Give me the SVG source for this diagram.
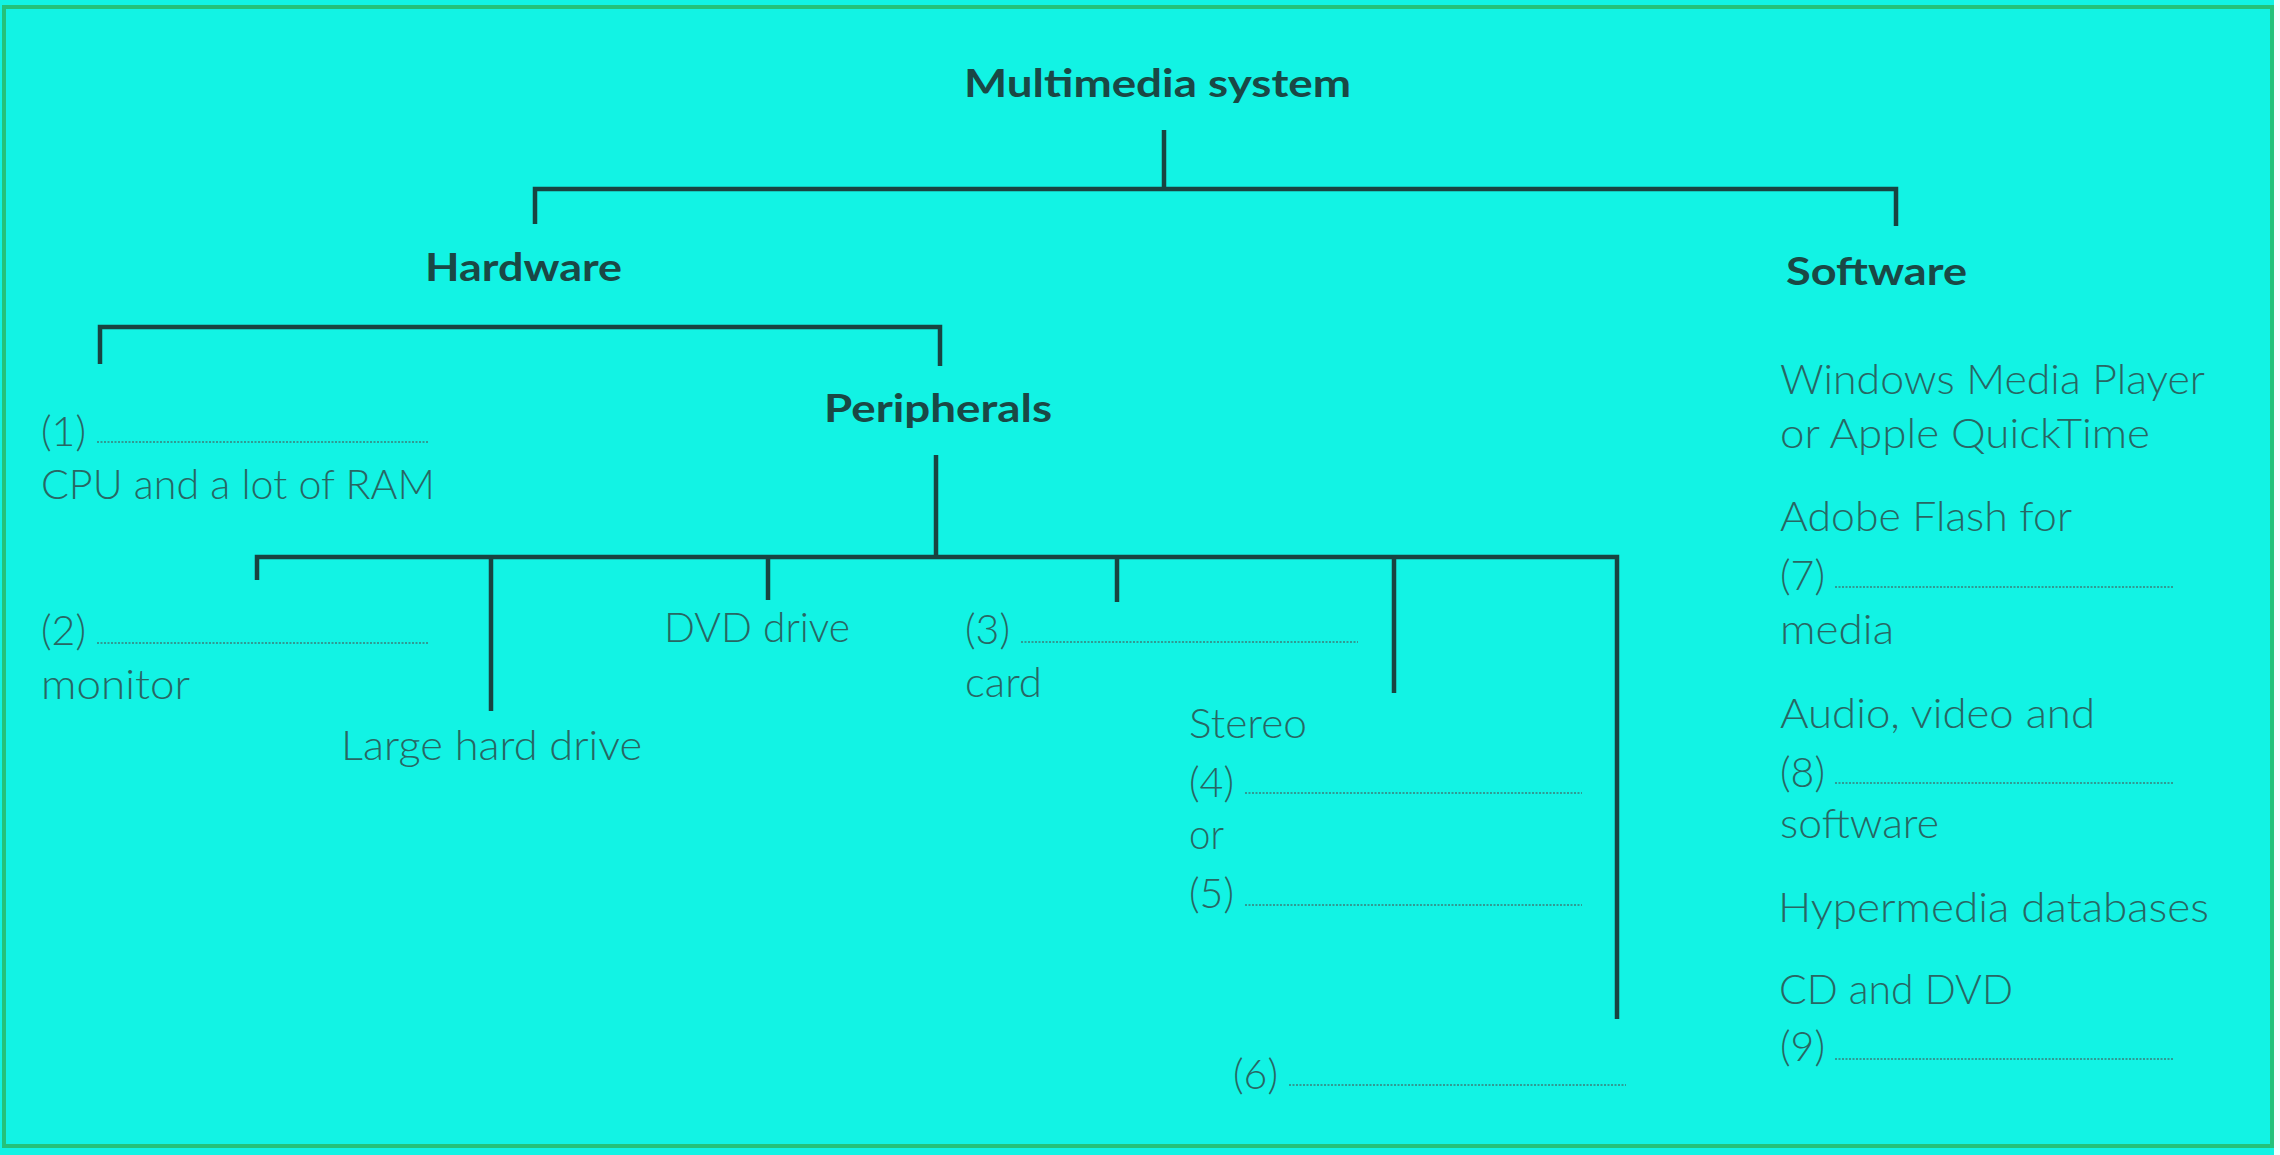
<svg xmlns="http://www.w3.org/2000/svg" width="2280" height="1155" viewBox="0 0 2280 1155">
<style>
.bg{fill:#12f3e4}
.frame{fill:none;stroke:#24c27a;stroke-width:4}
.h{font-family:Lato,"Open Sans","Liberation Sans",sans-serif;font-weight:700;font-size:39px;fill:#1a4845}
.t{font-family:Lato,"Open Sans","Liberation Sans",sans-serif;font-weight:300;font-size:42px;fill:#286663}
.c{fill:none;stroke:#184441;stroke-width:4.5;stroke-linecap:butt;stroke-linejoin:miter}
.d{fill:none;stroke:#3a7f7a;stroke-width:1.6;stroke-dasharray:2 1.5}
</style>
<rect class="bg" x="0" y="0" width="2280" height="1155"/>
<rect x="2274" y="0" width="6" height="1155" fill="#f4fffe"/>
<rect class="frame" x="4" y="7" width="2268" height="1139"/>

<g id="connectors">
<path class="c" d="M1164 130 V189"/>
<path class="c" d="M535 224 V189 H1896 V226"/>
<path class="c" d="M100 364 V327 H940 V366"/>
<path class="c" d="M936 455 V557"/>
<path class="c" d="M257 580 V557 H1617 V1019"/>
<path class="c" d="M491 557 V711"/>
<path class="c" d="M768 557 V600"/>
<path class="c" d="M1117 557 V602"/>
<path class="c" d="M1394 557 V693"/>
</g>

<g id="multimedia-system"><text class="h" x="964" y="97" textLength="387" lengthAdjust="spacingAndGlyphs">Multimedia system</text></g>
<g id="hardware"><text class="h" x="425" y="281" textLength="197" lengthAdjust="spacingAndGlyphs">Hardware</text></g>
<g id="software"><text class="h" x="1786" y="285" textLength="181" lengthAdjust="spacingAndGlyphs">Software</text></g>
<g id="peripherals"><text class="h" x="824" y="422" textLength="228" lengthAdjust="spacingAndGlyphs">Peripherals</text></g>

<g id="cpu">
<text class="t" x="41" y="446" textLength="45" lengthAdjust="spacingAndGlyphs">(1)</text>
<path class="d" d="M97 442 H429"/>
<text class="t" x="41" y="499" textLength="394" lengthAdjust="spacingAndGlyphs">CPU and a lot of RAM</text>
</g>

<g id="monitor">
<text class="t" x="41" y="645" textLength="45" lengthAdjust="spacingAndGlyphs">(2)</text>
<path class="d" d="M97 643 H429"/>
<text class="t" x="41" y="699" textLength="149" lengthAdjust="spacingAndGlyphs">monitor</text>
</g>

<g id="large-hard-drive"><text class="t" x="341" y="760" textLength="301" lengthAdjust="spacingAndGlyphs">Large hard drive</text></g>

<g id="dvd-drive"><text class="t" x="664" y="642" textLength="186" lengthAdjust="spacingAndGlyphs">DVD drive</text></g>

<g id="card">
<text class="t" x="965" y="644" textLength="45" lengthAdjust="spacingAndGlyphs">(3)</text>
<path class="d" d="M1021 642 H1358"/>
<text class="t" x="965" y="697" textLength="77" lengthAdjust="spacingAndGlyphs">card</text>
</g>

<g id="stereo">
<text class="t" x="1189" y="738" textLength="118" lengthAdjust="spacingAndGlyphs">Stereo</text>
<text class="t" x="1189" y="797" textLength="45" lengthAdjust="spacingAndGlyphs">(4)</text>
<path class="d" d="M1245 793 H1582"/>
<text class="t" x="1189" y="849" textLength="35" lengthAdjust="spacingAndGlyphs">or</text>
<text class="t" x="1189" y="908" textLength="45" lengthAdjust="spacingAndGlyphs">(5)</text>
<path class="d" d="M1245 905 H1582"/>
</g>

<g id="item-6">
<text class="t" x="1233" y="1089" textLength="45" lengthAdjust="spacingAndGlyphs">(6)</text>
<path class="d" d="M1289 1085 H1626"/>
</g>

<g id="software-list">
<text class="t" x="1780" y="394" textLength="425" lengthAdjust="spacingAndGlyphs">Windows Media Player</text>
<text class="t" x="1780" y="448" textLength="370" lengthAdjust="spacingAndGlyphs">or Apple QuickTime</text>
<text class="t" x="1780" y="531" textLength="292" lengthAdjust="spacingAndGlyphs">Adobe Flash for</text>
<text class="t" x="1780" y="590" textLength="45" lengthAdjust="spacingAndGlyphs">(7)</text>
<path class="d" d="M1835 587 H2173"/>
<text class="t" x="1780" y="644" textLength="114" lengthAdjust="spacingAndGlyphs">media</text>
<text class="t" x="1780" y="728" textLength="315" lengthAdjust="spacingAndGlyphs">Audio, video and</text>
<text class="t" x="1780" y="787" textLength="45" lengthAdjust="spacingAndGlyphs">(8)</text>
<path class="d" d="M1835 783 H2173"/>
<text class="t" x="1780" y="838" textLength="159" lengthAdjust="spacingAndGlyphs">software</text>
<text class="t" x="1778" y="922" textLength="431" lengthAdjust="spacingAndGlyphs">Hypermedia databases</text>
<text class="t" x="1779" y="1004" textLength="234" lengthAdjust="spacingAndGlyphs">CD and DVD</text>
<text class="t" x="1780" y="1061" textLength="45" lengthAdjust="spacingAndGlyphs">(9)</text>
<path class="d" d="M1835 1059 H2173"/>
</g>
</svg>
